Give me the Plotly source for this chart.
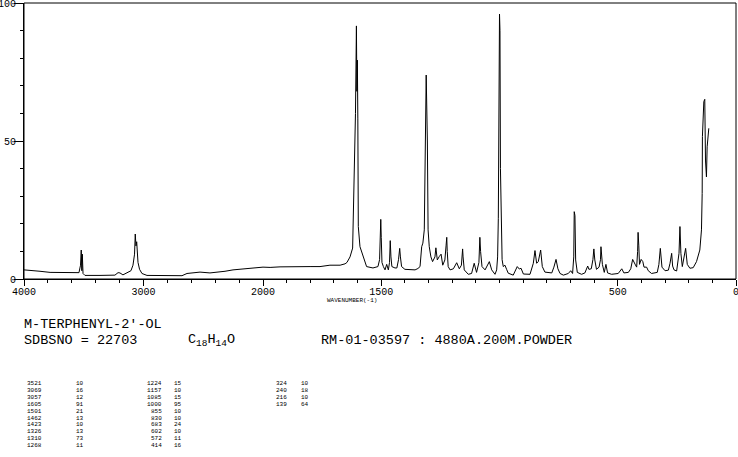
import plotly.graph_objects as go

# ---- spectrum (wavenumber cm-1, relative intensity) ----
wavenumber = [
    4000, 3950, 3866, 3782, 3657, 3540, 3527, 3521, 3516, 3512, 3506, 3490, 3364, 3239,
    3213, 3197, 3172, 3130, 3105, 3088, 3075, 3069, 3063, 3057, 3052, 3046, 3033, 3013,
    2971, 2862, 2778, 2678, 2636, 2527, 2444, 2385, 2318, 2251, 2176, 2109, 2059, 2000,
    1970, 1928, 1886, 1844, 1801, 1759, 1717, 1674, 1653, 1645, 1632, 1621, 1615, 1609,
    1605, 1603, 1601, 1599, 1597, 1590, 1576, 1562, 1535, 1514, 1507, 1502, 1500, 1497,
    1491, 1484, 1477, 1470, 1465, 1462, 1459, 1455, 1442, 1434, 1427, 1422, 1419, 1414,
    1400, 1378, 1357, 1345, 1336, 1329, 1324, 1318, 1312, 1310, 1305, 1302, 1297, 1290,
    1283, 1273, 1269, 1263, 1255, 1247, 1240, 1231, 1226, 1223, 1221, 1217, 1209, 1195,
    1181, 1170, 1161, 1156, 1154, 1149, 1132, 1118, 1107, 1097, 1087, 1083, 1080, 1074,
    1061, 1043, 1033, 1019, 1012, 1008, 1005, 1002, 1000, 998, 996, 993, 989, 984,
    977, 970, 963, 942, 925, 916, 909, 899, 871, 857, 850, 843, 836, 826,
    819, 808, 779, 770, 761, 753, 744, 730, 709, 699, 691, 686, 684, 681,
    678, 671, 653, 639, 627, 622, 612, 605, 601, 597, 590, 579, 573, 571,
    565, 557, 550, 543, 526, 498, 483, 474, 455, 445, 437, 427, 420, 416,
    414, 411, 408, 401, 394, 389, 378, 371, 357, 333, 326, 320, 317, 313,
    300, 286, 279, 272, 268, 262, 251, 241, 237, 233, 227, 220, 213, 206,
    195, 181, 167, 153, 146, 143, 142, 136, 132, 129, 125, 122, 118, 115,
]
intensity = [
    3.3, 3.2, 2.8, 2.4, 2.3, 2.3, 5.0, 10.5, 3.0, 9.0, 2.0, 1.3, 1.3, 1.4,
    2.3, 2.2, 1.5, 2.3, 3.0, 5.0, 9.0, 16.3, 12.0, 13.5, 11.0, 6.0, 3.5, 2.0,
    1.3, 1.2, 1.3, 1.2, 2.0, 2.5, 2.2, 2.4, 2.8, 3.3, 3.6, 4.0, 4.2, 4.3,
    4.2, 4.4, 4.5, 4.6, 4.5, 4.5, 5.0, 5.0, 5.5, 6.0, 8.0, 11.2, 31.6, 60.0,
    91.7, 68.0, 79.3, 58.0, 19.0, 11.7, 8.0, 4.5, 4.0, 4.5, 7.0, 21.6, 15.0, 6.0,
    4.5, 3.3, 5.3, 3.3, 6.0, 13.9, 8.0, 4.5, 4.0, 4.0, 7.0, 11.1, 8.0, 4.5,
    3.5, 3.3, 3.3, 3.8, 4.5, 11.7, 13.0, 17.8, 63.8, 73.9, 50.0, 17.8, 11.7, 8.0,
    6.3, 8.0, 11.3, 6.9, 8.1, 9.0, 5.0, 6.9, 12.0, 15.1, 10.0, 4.5, 3.3, 3.7,
    5.9, 3.7, 5.0, 10.9, 8.0, 3.3, 1.7, 2.0, 5.7, 2.4, 6.0, 15.1, 10.0, 4.5,
    3.3, 6.3, 3.3, 1.7, 3.3, 8.0, 22.0, 60.0, 96.0, 90.0, 40.0, 19.0, 7.0, 4.5,
    5.0, 3.5, 2.1, 1.4, 4.5, 3.6, 3.9, 1.8, 1.7, 5.7, 10.3, 5.7, 6.3, 10.5,
    4.5, 2.5, 2.2, 4.3, 7.1, 3.7, 2.0, 1.4, 2.0, 3.0, 2.0, 8.0, 24.4, 23.0,
    6.9, 2.4, 1.7, 2.2, 4.7, 3.5, 3.7, 7.0, 10.9, 6.9, 3.5, 4.3, 7.0, 11.7,
    5.3, 2.4, 5.3, 2.2, 1.7, 2.0, 3.7, 2.2, 2.4, 3.7, 7.1, 5.4, 4.3, 10.0,
    16.9, 12.0, 5.3, 7.1, 6.3, 4.3, 4.3, 3.0, 2.0, 2.4, 5.3, 11.1, 8.0, 4.3,
    3.0, 3.2, 5.7, 9.3, 4.7, 3.3, 2.9, 9.3, 19.0, 9.3, 4.5, 8.1, 11.1, 5.3,
    3.9, 4.1, 6.3, 10.5, 17.8, 31.0, 51.6, 64.3, 65.1, 43.1, 37.0, 47.9, 51.0, 54.6,
]

# ---- peak table ----
peak_wn = [3521, 3069, 3057, 1605, 1501, 1462, 1423, 1326, 1310, 1268,
           1224, 1157, 1085, 1000, 855, 830, 683, 602, 572, 414,
           324, 240, 216, 139]
peak_int = [10, 16, 12, 91, 21, 13, 10, 13, 73, 11,
            15, 10, 15, 95, 10, 10, 24, 10, 11, 16,
            10, 18, 10, 64]

# ---- texts ----
compound = "M-TERPHENYL-2'-OL"
sdbs_no = "SDBSNO = 22703"
formula = "C<sub>18</sub>H<sub>14</sub>O"
sample = "RM-01-03597 : 4880A.200M.POWDER"
x_title = "WAVENUMBER(-1)"

# axis ticks
left_ticks = [4000, 3000, 2000]
left_ticktext = ["4000", "3000", "2000"]
right_ticks = [1500, 500, 0]
right_ticktext = ["1500", "500", "0"]

# ---- geometry (pixels) ----
W_FIG, H_FIG = 738, 457
L, R, T, B = 24, 736, 3, 279
PW, PH = R - L, B - T
split = 239 / PW  # 4000-2000 occupies the left third

def px(x):
    return (x - L) / PW

def py(y):
    return (B - y) / PH

FONT = "Liberation Mono"
black = "#000000"

left_wn = [w for w in wavenumber if w >= 2000]
left_int = [i for w, i in zip(wavenumber, intensity) if w >= 2000]
right_wn = [w for w in wavenumber if w <= 2000]
right_int = [i for w, i in zip(wavenumber, intensity) if w <= 2000]

fig = go.Figure()
fig.add_trace(go.Scatter(x=left_wn, y=left_int, mode="lines", xaxis="x", yaxis="y",
                         line=dict(color=black, width=1), hoverinfo="skip", showlegend=False))
fig.add_trace(go.Scatter(x=right_wn, y=right_int, mode="lines", xaxis="x2", yaxis="y",
                         line=dict(color=black, width=1), hoverinfo="skip", showlegend=False))

xcommon = dict(showgrid=False, zeroline=False, showline=True, linecolor=black, linewidth=1,
               ticks="outside", ticklen=6, tickwidth=1, tickcolor=black, automargin=False,
               ticklabelstandoff=-3, ticklabeloverflow="allow",
               tickfont=dict(family=FONT, size=10, color=black), anchor="y")

fig.update_layout(
    width=W_FIG, height=H_FIG,
    margin=dict(l=L, r=W_FIG - R, t=T, b=H_FIG - B, pad=0, autoexpand=False),
    paper_bgcolor="white", plot_bgcolor="white",
    showlegend=False,
    xaxis=dict(domain=[0, split], range=[4000, 2000], tickmode="array",
               tickvals=left_ticks, ticktext=left_ticktext,
               minor=dict(tickvals=list(range(2000, 4001, 200)), ticks="outside",
                          ticklen=3, tickcolor=black, tickwidth=1, showgrid=False),
               **xcommon),
    xaxis2=dict(domain=[split, 1], range=[2000, 0], tickmode="array",
                tickvals=right_ticks, ticktext=right_ticktext,
                minor=dict(tickvals=list(range(0, 2001, 100)), ticks="outside",
                           ticklen=3, tickcolor=black, tickwidth=1, showgrid=False),
                **xcommon),
    yaxis=dict(domain=[0, 1], range=[0, 100], anchor="x", showgrid=False, zeroline=False,
               showline=True, linecolor=black, linewidth=1, automargin=False,
               tickmode="array", tickvals=[0, 50, 100], ticktext=["0", "50", "100"],
               ticks="outside", ticklen=9, tickwidth=1, tickcolor=black,
               ticklabelstandoff=-4, ticklabeloverflow="allow",
               minor=dict(tickvals=list(range(0, 101, 10)), ticks="outside", ticklen=3,
                          tickcolor=black, tickwidth=1, showgrid=False),
               tickfont=dict(family=FONT, size=10, color=black)),
    shapes=[dict(type="rect", xref="paper", yref="paper", x0=0, x1=1, y0=0, y1=1,
                 line=dict(color=black, width=1), layer="above")],
)

ann = []

def text(x, y, s, size, xanchor="left"):
    ann.append(dict(x=px(x), y=py(y), xref="paper", yref="paper", text=s, showarrow=False,
                    xanchor=xanchor, yanchor="middle", borderpad=0,
                    font=dict(family=FONT, size=size, color=black)))

text(352, 300, x_title, 6, "center")
text(23, 324, compound, 13.5)
text(23, 340.5, sdbs_no, 13.5)
text(187, 340.5, formula, 13.5)
text(320, 340.5, sample, 13.5)

# peak table: 3 groups of up to 10 rows
wn_right_edge = [43, 163, 288]
int_left = [75, 173, 300]
for k, (w, v) in enumerate(zip(peak_wn, peak_int)):
    g, r = divmod(k, 10)
    yrow = 383.5 + 6.9 * r
    text(wn_right_edge[g], yrow, str(w), 6, "right")
    text(int_left[g], yrow, str(v), 6, "left")

fig.update_layout(annotations=ann)
fig.write_html("out.html", config={"displayModeBar": False},
               post_script="document.body.style.margin='0px';")
